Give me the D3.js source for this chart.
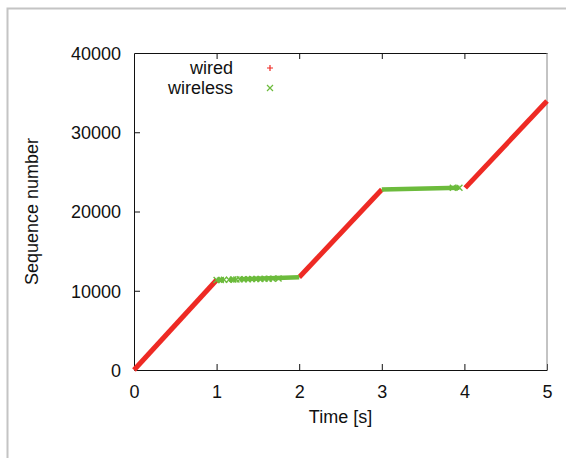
<!DOCTYPE html>
<html>
<head>
<meta charset="utf-8">
<script src="https://cdn.jsdelivr.net/npm/d3@7"></script>
<style>
  body { margin: 0; background: #fff; }
  text { font-family: "Liberation Sans", Arial, sans-serif; fill: #111; }
</style>
</head>
<body>
<div class="canva"></div>
<script>
// data
const xTicks = [0, 1, 2, 3, 4, 5];
const yTicks = [0, 10000, 20000, 30000, 40000];

// wired: straight runs [time, seq]
const wiredRuns = [
  [[0, 0], [1.0, 11360]],
  [[2.0, 11700], [3.0, 22780]],
  [[4.01, 22980], [5.0, 33940]]
];

// wireless: runs of x markers [time, seq]
const wirelessRuns = [
  [[1.0, 11360], [1.09, 11380]],
  [[1.15, 11400], [1.24, 11420]],
  [[1.28, 11440], [2.0, 11700]],
  [[3.0, 22780], [3.94, 23000]]
];

// single visible x markers along the wireless runs
const wirelessMarks = [
  [1.0, 11360], [1.05, 11370], [1.09, 11380],
  [1.15, 11400], [1.2, 11410], [1.24, 11420],
  [1.28, 11440], [1.33, 11450], [1.38, 11460], [1.43, 11470],
  [1.48, 11480], [1.53, 11490], [1.58, 11500], [1.63, 11510],
  [1.68, 11520], [1.75, 11540], [3.86, 22990], [3.94, 23000]
];

const legendLabels = ['wired', 'wireless'];
const colors = ['#ee2a24', '#6cbb3c'];

const W = 566, H = 458;
const m = { left: 134, right: 547, top: 53, bottom: 370 };

const svg = d3.select('.canva').append('svg')
    .attr('width', W)
    .attr('height', H);

// outer frame
svg.append('path')
    .attr('d', `M7.5,${H} L7.5,8.5 L${W},8.5`)
    .attr('fill', 'none')
    .attr('stroke', '#c4c4c4')
    .attr('stroke-width', 2);

const x = d3.scaleLinear().domain([0, 5]).range([m.left, m.right]);
const y = d3.scaleLinear().domain([0, 40000]).range([m.bottom, m.top]);

// axes (ticks inward, mirrored on top)
const gx = svg.append('g')
    .attr('transform', `translate(0,${m.bottom})`)
    .call(d3.axisBottom(x).tickValues(xTicks).tickFormat(d3.format('d'))
      .tickSizeInner(-6).tickSizeOuter(0).tickPadding(15));
const gxTop = svg.append('g')
    .attr('transform', `translate(0,${m.top})`)
    .call(d3.axisTop(x).tickValues(xTicks.slice(1, -1)).tickSizeInner(-6).tickSizeOuter(0).tickFormat(''));
const gy = svg.append('g')
    .attr('transform', `translate(${m.left},0)`)
    .call(d3.axisLeft(y).tickValues(yTicks).tickFormat(d3.format('d'))
      .tickSizeInner(-6).tickSizeOuter(0).tickPadding(13));

[gx, gxTop, gy].forEach(g => {
  g.select('.domain').attr('stroke', '#111');
  g.selectAll('.tick line').attr('stroke', '#111');
  g.selectAll('text').attr('font-size', 18).attr('fill', '#111')
    .style('font-family', '"Liberation Sans", Arial, sans-serif');
});
gy.selectAll('.tick text').attr('dy', '0.35em');
gy.selectAll('.tick').filter(d => d === 0 || d === 40000).select('line').remove();

// right border
svg.append('line')
    .attr('x1', m.right).attr('x2', m.right)
    .attr('y1', m.top).attr('y2', m.bottom)
    .attr('stroke', '#888');

// wired lines
const line = d3.line().x(d => x(d[0])).y(d => y(d[1]));
svg.selectAll('.wired').data(wiredRuns).join('path')
    .attr('class', 'wired')
    .attr('d', line)
    .attr('fill', 'none')
    .attr('stroke', colors[0])
    .attr('stroke-width', 5);

// wireless runs
svg.selectAll('.wireless').data(wirelessRuns).join('path')
    .attr('class', 'wireless')
    .attr('d', line)
    .attr('fill', 'none')
    .attr('stroke', colors[1])
    .attr('stroke-width', 4.5);

// x markers
svg.selectAll('.xmark').data(wirelessMarks).join('path')
    .attr('class', 'xmark')
    .attr('d', d => {
      const cx = x(d[0]), cy = y(d[1]), r = 3;
      return `M${cx - r},${cy - r}L${cx + r},${cy + r}M${cx - r},${cy + r}L${cx + r},${cy - r}`;
    })
    .attr('stroke', colors[1])
    .attr('stroke-width', 1.4);

// axis titles
svg.append('text')
    .text('Time [s]')
    .attr('x', (m.left + m.right) / 2)
    .attr('y', 423)
    .attr('text-anchor', 'middle')
    .attr('font-size', 18);

svg.append('text')
    .text('Sequence number')
    .attr('transform', `translate(38,${(m.top + m.bottom) / 2}) rotate(-90)`)
    .attr('text-anchor', 'middle')
    .attr('font-size', 18);

// legend
const leg = svg.append('g');
legendLabels.forEach((lab, i) => {
  const ly = 68 + i * 20;
  leg.append('text')
      .text(lab)
      .attr('x', 233)
      .attr('y', ly + 6)
      .attr('text-anchor', 'end')
      .attr('font-size', 18);
  const cx = 270, r = 3;
  leg.append('path')
      .attr('d', i === 0
        ? `M${cx - r},${ly}L${cx + r},${ly}M${cx},${ly - r}L${cx},${ly + r}`
        : `M${cx - r},${ly - r}L${cx + r},${ly + r}M${cx - r},${ly + r}L${cx + r},${ly - r}`)
      .attr('stroke', colors[i])
      .attr('stroke-width', 1.2);
});
</script>
</body>
</html>
